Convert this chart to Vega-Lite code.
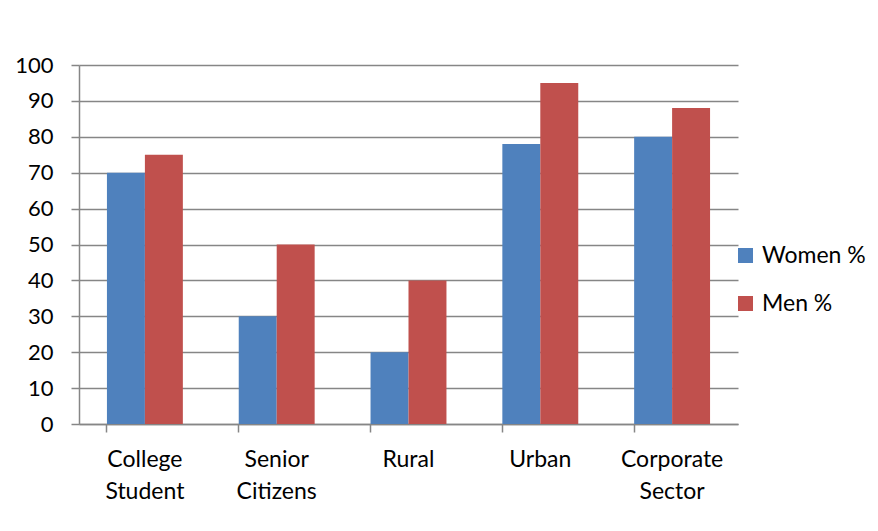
{
  "$schema": "https://vega.github.io/schema/vega-lite/v6.json",
  "autosize": "none",
  "width": 659,
  "height": 359,
  "padding": {"left": 79, "top": 65, "right": 140, "bottom": 107},
  "background": "white",
  "data": {
    "values": [
      {"category": "College Student", "series": "Women %", "value": 70},
      {"category": "College Student", "series": "Men %", "value": 75},
      {"category": "Senior Citizens", "series": "Women %", "value": 30},
      {"category": "Senior Citizens", "series": "Men %", "value": 50},
      {"category": "Rural", "series": "Women %", "value": 20},
      {"category": "Rural", "series": "Men %", "value": 40},
      {"category": "Urban", "series": "Women %", "value": 78},
      {"category": "Urban", "series": "Men %", "value": 95},
      {"category": "Corporate Sector", "series": "Women %", "value": 80},
      {"category": "Corporate Sector", "series": "Men %", "value": 88}
    ]
  },
  "mark": {"type": "bar"},
  "encoding": {
    "x": {
      "field": "category",
      "type": "nominal",
      "sort": null,
      "scale": {"paddingInner": 0.424, "paddingOuter": 0.212},
      "axis": {
        "title": null,
        "labelAngle": 0,
        "bandPosition": 0,
        "tickSize": 8,
        "tickColor": "#868686",
        "tickWidth": 1.5,
        "domainColor": "#868686",
        "domainWidth": 1.5,
        "labelFont": "Lato",
        "labelFontSize": 23,
        "labelColor": "#000000",
        "labelPadding": 16,
        "labelLineHeight": 32,
        "labelExpr": "split(datum.label, ' ')",
        "grid": false
      }
    },
    "xOffset": {"field": "series", "type": "nominal", "sort": ["Women %", "Men %"], "scale": {"paddingInner": 0, "paddingOuter": 0}},
    "y": {
      "field": "value",
      "type": "quantitative",
      "scale": {"domain": [0, 100], "nice": false},
      "axis": {
        "title": null,
        "values": [0, 10, 20, 30, 40, 50, 60, 70, 80, 90, 100],
        "tickSize": 8,
        "tickColor": "#868686",
        "tickWidth": 1.5,
        "domainColor": "#868686",
        "domainWidth": 1.5,
        "gridColor": "#868686",
        "gridWidth": 1.5,
        "gridOpacity": 1,
        "labelFont": "Lato",
        "labelFontSize": 22,
        "labelColor": "#000000",
        "labelPadding": 18
      }
    },
    "color": {
      "field": "series",
      "type": "nominal",
      "sort": ["Women %", "Men %"],
      "scale": {"domain": ["Women %", "Men %"], "range": ["#4F81BD", "#C0504D"]},
      "legend": {
        "title": null,
        "orient": "none",
        "legendX": 655,
        "legendY": 179,
        "symbolType": "square",
        "symbolSize": 225,
        "symbolStrokeWidth": 0,
        "labelFont": "Lato",
        "labelFontSize": 23,
        "labelColor": "#000000",
        "labelOffset": 5,
        "rowPadding": 24
      }
    }
  },
  "config": {"view": {"stroke": null}}
}
